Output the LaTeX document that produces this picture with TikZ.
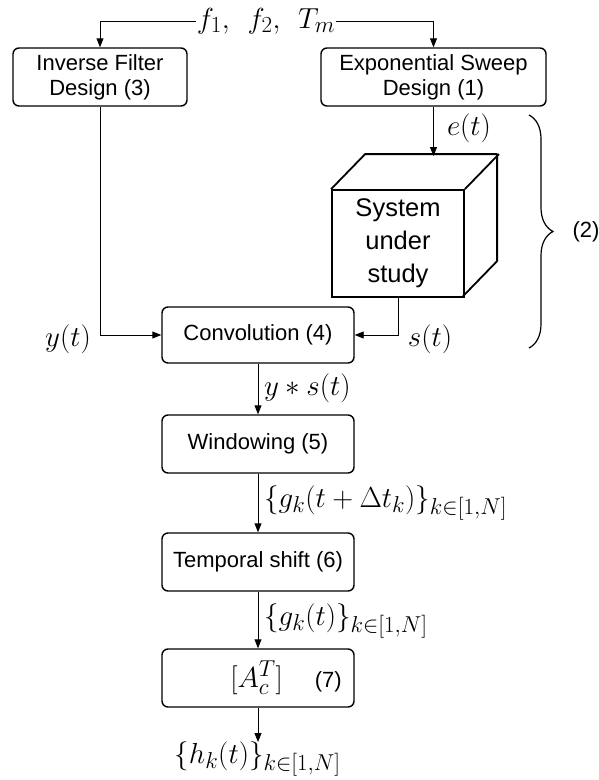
\RequirePackage{fix-cm}
\documentclass[tikz,border=0pt]{standalone}
\usepackage[no-math]{fontspec}
\setmainfont{Liberation Sans}
\DeclareMathSizes{29}{29}{23}{18}
\usetikzlibrary{arrows.meta,decorations.pathreplacing}
\begin{document}
\begin{tikzpicture}[x=1pt,y=-1pt,
  box/.style={draw,line width=1.4pt,rounded corners=6pt,minimum width=192pt,minimum height=58pt,align=center,inner sep=0pt,font=\fontsize{22}{25}\selectfont},
  conn/.style={line width=0.9pt,-{Triangle[length=9pt,width=7pt]}},
  lab/.style={inner sep=1pt,font=\fontsize{29}{31}\selectfont},
  cube/.style={draw,line width=1.8pt,minimum width=132pt,minimum height=107pt,align=center,inner sep=0pt,font=\fontsize{25.5}{33}\selectfont},
  cubeedge/.style={line width=1.8pt,line join=round},
  bracestyle/.style={line width=1.2pt,decorate,decoration={brace,amplitude=24pt}},
  side/.style={inner sep=0pt,font=\fontsize{22}{25}\selectfont}]
\useasboundingbox (0,0) rectangle (599,780);

% top boxes and parameters
\node[box,minimum width=174pt] (ifd) at (100,77) {Inverse Filter\\Design (3)};
\node[box,minimum width=225pt] (esd) at (433.5,77) {Exponential Sweep\\Design (1)};
\node[lab,anchor=base] (f) at (266,28) {$f_1,\;\,f_2,\;\,T_m$};
\coordinate (topline) at (0,21);
\draw[conn] (f.west |- topline) -| (ifd.north);
\draw[conn] (f.east |- topline) -| (esd.north);

% system under study (cube)
\node[cube] (sys) at (398,243.5) {System\\under\\study};
\draw[cubeedge] (sys.north west) -- ++(34,-35) -- ++(132,0) -- ++(0,107) -- ++(-34,35);
\draw[cubeedge] (sys.north east) -- ++(34,-35);
\coordinate (ctop) at (433.5,156);
\draw[conn] (esd.south) -- (ctop);
\node[lab,anchor=base] (et) at (469,135) {$e(t)$};

% convolution
\node[box,minimum height=56pt] (conv) at (258,335) {Convolution (4)};
\draw[conn] (ifd.south) |- (conv.west);
\draw[conn] (sys.south) |- (conv.east);
\node[lab,anchor=base] (yt) at (68,346) {$y(t)$};
\node[lab,anchor=base] (st) at (430,346) {$s(t)$};

% brace (2)
\coordinate (btop) at (529,115);
\coordinate (bbot) at (529,348);
\draw[bracestyle] (btop) -- (bbot);
\node[side] (two) at (586,232) {(2)};

% lower chain
\node[box] (win) at (258,444) {Windowing (5)};
\draw[conn] (conv.south) -- (win.north);
\node[lab,anchor=base west] (ys) at (263,395) {$y*s(t)$};

\node[box] (tmp) at (258,562) {Temporal shift (6)};
\draw[conn] (win.south) -- (tmp.north);
\node[lab,anchor=base west] (gd) at (263,507) {$\{g_k(t+\Delta t_k)\}_{k\in[1,N]}$};

\node[box] (ac) at (258,678) {\hspace*{56pt}{\fontsize{29}{31}\selectfont$[A_c^T]$}\hspace{32pt}(7)};
\draw[conn] (tmp.south) -- (ac.north);
\node[lab,anchor=base west] (gk) at (263,625) {$\{g_k(t)\}_{k\in[1,N]}$};

\coordinate (oend) at (257,742);
\draw[conn] (ac.south) -- (ac.south |- oend);
\node[lab,anchor=base] (hk) at (257.5,763) {$\{h_k(t)\}_{k\in[1,N]}$};
\end{tikzpicture}
\end{document}
